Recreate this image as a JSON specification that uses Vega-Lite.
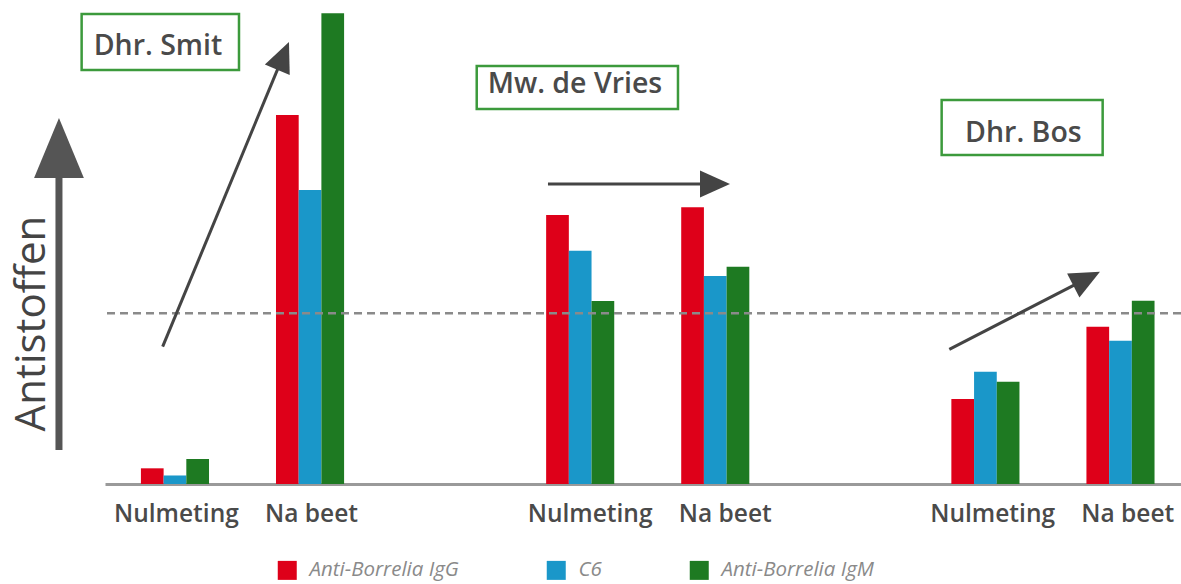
{
  "$schema": "https://vega.github.io/schema/vega-lite/v6.json",
  "width": 1076,
  "height": 484,
  "autosize": {"type": "none"},
  "padding": {"left": 105, "top": 0, "right": 0, "bottom": 100},
  "background": "white",
  "config": {"view": {"stroke": null}, "font": "Open Sans"},
  "datasets": {
    "metingen": [
      {"persoon": "Dhr. Smit", "meting": "Nulmeting", "slot": 0, "serie": "Anti-Borrelia IgG", "waarde": 3.24},
      {"persoon": "Dhr. Smit", "meting": "Nulmeting", "slot": 0, "serie": "C6", "waarde": 1.76},
      {"persoon": "Dhr. Smit", "meting": "Nulmeting", "slot": 0, "serie": "Anti-Borrelia IgM", "waarde": 5.17},
      {"persoon": "Dhr. Smit", "meting": "Na beet", "slot": 1, "serie": "Anti-Borrelia IgG", "waarde": 76.24},
      {"persoon": "Dhr. Smit", "meting": "Na beet", "slot": 1, "serie": "C6", "waarde": 60.74},
      {"persoon": "Dhr. Smit", "meting": "Na beet", "slot": 1, "serie": "Anti-Borrelia IgM", "waarde": 97.25},
      {"persoon": "Mw. de Vries", "meting": "Nulmeting", "slot": 3, "serie": "Anti-Borrelia IgG", "waarde": 55.58},
      {"persoon": "Mw. de Vries", "meting": "Nulmeting", "slot": 3, "serie": "C6", "waarde": 48.2},
      {"persoon": "Mw. de Vries", "meting": "Nulmeting", "slot": 3, "serie": "Anti-Borrelia IgM", "waarde": 37.81},
      {"persoon": "Mw. de Vries", "meting": "Na beet", "slot": 4, "serie": "Anti-Borrelia IgG", "waarde": 57.17},
      {"persoon": "Mw. de Vries", "meting": "Na beet", "slot": 4, "serie": "C6", "waarde": 42.98},
      {"persoon": "Mw. de Vries", "meting": "Na beet", "slot": 4, "serie": "Anti-Borrelia IgM", "waarde": 44.9},
      {"persoon": "Dhr. Bos", "meting": "Nulmeting", "slot": 6, "serie": "Anti-Borrelia IgG", "waarde": 17.56},
      {"persoon": "Dhr. Bos", "meting": "Nulmeting", "slot": 6, "serie": "C6", "waarde": 23.2},
      {"persoon": "Dhr. Bos", "meting": "Nulmeting", "slot": 6, "serie": "Anti-Borrelia IgM", "waarde": 21.14},
      {"persoon": "Dhr. Bos", "meting": "Na beet", "slot": 7, "serie": "Anti-Borrelia IgG", "waarde": 32.5},
      {"persoon": "Dhr. Bos", "meting": "Na beet", "slot": 7, "serie": "C6", "waarde": 29.61},
      {"persoon": "Dhr. Bos", "meting": "Na beet", "slot": 7, "serie": "Anti-Borrelia IgM", "waarde": 37.87}
    ],
    "drempel": [{"waarde": 35.27}],
    "namen": [
      {"persoon": "Dhr. Smit", "x0": -0.691, "x1": 0.474, "y0": 97.11, "y1": 85.54, "tx": -0.126, "ty": 88.64},
      {"persoon": "Mw. de Vries", "x0": 2.234, "x1": 3.724, "y0": 86.36, "y1": 77.48, "tx": 2.961, "ty": 80.72},
      {"persoon": "Dhr. Bos", "x0": 5.676, "x1": 6.868, "y0": 79.34, "y1": 67.98, "tx": 6.281, "ty": 70.72}
    ],
    "pijlen": [
      {"pijl": "Smit", "xa": -0.0911, "ya": 28.37, "xb": 0.801, "yb": 88.47, "xt": 0.844, "yt": 91.32},
      {"pijl": "Vries", "xa": 2.7615, "ya": 61.98, "xb": 3.976, "yb": 61.98, "xt": 4.109, "yt": 61.98},
      {"pijl": "Bos", "xa": 5.7326, "ya": 27.83, "xb": 6.75, "yb": 42.44, "xt": 6.848, "yt": 43.86}
    ],
    "as": [{"xa": -0.8588, "ya": 7.02, "xb": -0.8588, "yb": 64.88, "xt": -0.8588, "yt": 75.62}]
  },
  "layer": [
    {
      "data": {"name": "metingen"},
      "transform": [{"filter": "datum.serie == 'Anti-Borrelia IgG'"}],
      "mark": {"type": "bar", "orient": "vertical", "width": 22.7, "xOffset": -22.7},
      "encoding": {
        "x": {
          "field": "slot", "type": "quantitative", "title": null,
          "scale": {"domain": [-0.518, 7.448], "nice": false, "zero": false, "padding": 0},
          "axis": {
            "title": null, "values": [0.007, 1.007, 3.07, 4.07, 6.05, 7.05],
            "labelExpr": "round(datum.value) % 3 == 0 ? 'Nulmeting' : 'Na beet'",
            "grid": false, "ticks": false, "tickSize": 0,
            "domainColor": "#9a9a9a", "domainWidth": 3,
            "labelFont": "Open Sans", "labelFontSize": 24.5, "labelFontWeight": 600,
            "labelColor": "#4a4a4a", "labelBaseline": "alphabetic", "labelPadding": 37
          }
        },
        "y": {
          "field": "waarde", "type": "quantitative", "title": "Antistoffen",
          "scale": {"domain": [0, 100], "nice": false, "padding": 0},
          "axis": {
            "title": "Antistoffen", "labels": false, "ticks": false, "domain": false, "grid": false,
            "titleFont": "Open Sans", "titleFontSize": 42, "titleFontWeight": "normal", "titleColor": "#444444",
            "titleAngle": -90, "titleX": -61, "titleY": 323, "titleAlign": "center", "titleBaseline": "alphabetic"
          }
        },
        "color": {
          "field": "serie", "type": "nominal",
          "scale": {"domain": ["Anti-Borrelia IgG", "C6", "Anti-Borrelia IgM"], "range": ["#DE0019", "#1A97C9", "#1E7A22"]},
          "legend": {
            "title": null, "orient": "none", "legendX": 172, "legendY": 560, "direction": "horizontal",
            "symbolType": "square", "symbolSize": 361, "symbolStrokeWidth": 0,
            "labelFont": "Open Sans", "labelFontSize": 20.5, "labelFontStyle": "italic", "labelColor": "#8a8a8a",
            "labelOffset": 12, "columnPadding": 87
          }
        }
      }
    },
    {
      "data": {"name": "metingen"},
      "transform": [{"filter": "datum.serie == 'C6'"}],
      "mark": {"type": "bar", "orient": "vertical", "width": 22.7, "xOffset": 0},
      "encoding": {
        "x": {"field": "slot", "type": "quantitative", "title": null},
        "y": {"field": "waarde", "type": "quantitative", "title": "Antistoffen"},
        "color": {"field": "serie", "type": "nominal"}
      }
    },
    {
      "data": {"name": "metingen"},
      "transform": [{"filter": "datum.serie == 'Anti-Borrelia IgM'"}],
      "mark": {"type": "bar", "orient": "vertical", "width": 22.7, "xOffset": 22.7},
      "encoding": {
        "x": {"field": "slot", "type": "quantitative", "title": null},
        "y": {"field": "waarde", "type": "quantitative", "title": "Antistoffen"},
        "color": {"field": "serie", "type": "nominal"}
      }
    },
    {
      "data": {"name": "drempel"},
      "mark": {"type": "rule", "color": "#8a8a8a", "strokeWidth": 2.5, "strokeDash": [8, 5]},
      "encoding": {
        "y": {"field": "waarde", "type": "quantitative", "title": "Antistoffen"}
      }
    },
    {
      "data": {"name": "namen"},
      "mark": {"type": "rect", "fill": "white", "stroke": "#3C9A3C", "strokeWidth": 2.5},
      "encoding": {
        "x": {"field": "x0", "type": "quantitative", "title": null},
        "x2": {"field": "x1"},
        "y": {"field": "y0", "type": "quantitative", "title": "Antistoffen"},
        "y2": {"field": "y1"}
      }
    },
    {
      "data": {"name": "namen"},
      "mark": {"type": "text", "font": "Open Sans", "fontSize": 28.5, "fontWeight": 600, "color": "#4a4a4a", "align": "center", "baseline": "alphabetic"},
      "encoding": {
        "x": {"field": "tx", "type": "quantitative", "title": null},
        "y": {"field": "ty", "type": "quantitative", "title": "Antistoffen"},
        "text": {"field": "persoon"}
      }
    },
    {
      "data": {"name": "pijlen"},
      "mark": {"type": "rule", "color": "#444444", "strokeWidth": 3},
      "encoding": {
        "x": {"field": "xa", "type": "quantitative", "title": null},
        "y": {"field": "ya", "type": "quantitative", "title": "Antistoffen"},
        "x2": {"field": "xb"},
        "y2": {"field": "yb"}
      }
    },
    {
      "data": {"name": "pijlen"},
      "transform": [{"filter": "datum.pijl == 'Smit'"}],
      "mark": {"type": "point", "shape": "M0,0L0.9,2L-0.9,2Z", "filled": true, "opacity": 1, "size": 900, "angle": 22.9, "color": "#444444", "strokeWidth": 0},
      "encoding": {
        "x": {"field": "xt", "type": "quantitative", "title": null},
        "y": {"field": "yt", "type": "quantitative", "title": "Antistoffen"}
      }
    },
    {
      "data": {"name": "pijlen"},
      "transform": [{"filter": "datum.pijl == 'Vries'"}],
      "mark": {"type": "point", "shape": "M0,0L0.9,2L-0.9,2Z", "filled": true, "opacity": 1, "size": 900, "angle": 90, "color": "#444444", "strokeWidth": 0},
      "encoding": {
        "x": {"field": "xt", "type": "quantitative", "title": null},
        "y": {"field": "yt", "type": "quantitative", "title": "Antistoffen"}
      }
    },
    {
      "data": {"name": "pijlen"},
      "transform": [{"filter": "datum.pijl == 'Bos'"}],
      "mark": {"type": "point", "shape": "M0,0L0.9,2L-0.9,2Z", "filled": true, "opacity": 1, "size": 900, "angle": 62.8, "color": "#444444", "strokeWidth": 0},
      "encoding": {
        "x": {"field": "xt", "type": "quantitative", "title": null},
        "y": {"field": "yt", "type": "quantitative", "title": "Antistoffen"}
      }
    },
    {
      "data": {"name": "as"},
      "mark": {"type": "rule", "color": "#555555", "strokeWidth": 7},
      "encoding": {
        "x": {"field": "xa", "type": "quantitative", "title": null},
        "y": {"field": "ya", "type": "quantitative", "title": "Antistoffen"},
        "x2": {"field": "xb"},
        "y2": {"field": "yb"}
      }
    },
    {
      "data": {"name": "as"},
      "mark": {"type": "point", "shape": "M0,0L0.83,2L-0.83,2Z", "filled": true, "opacity": 1, "size": 3600, "angle": 0, "color": "#555555", "strokeWidth": 0},
      "encoding": {
        "x": {"field": "xt", "type": "quantitative", "title": null},
        "y": {"field": "yt", "type": "quantitative", "title": "Antistoffen"}
      }
    }
  ]
}
